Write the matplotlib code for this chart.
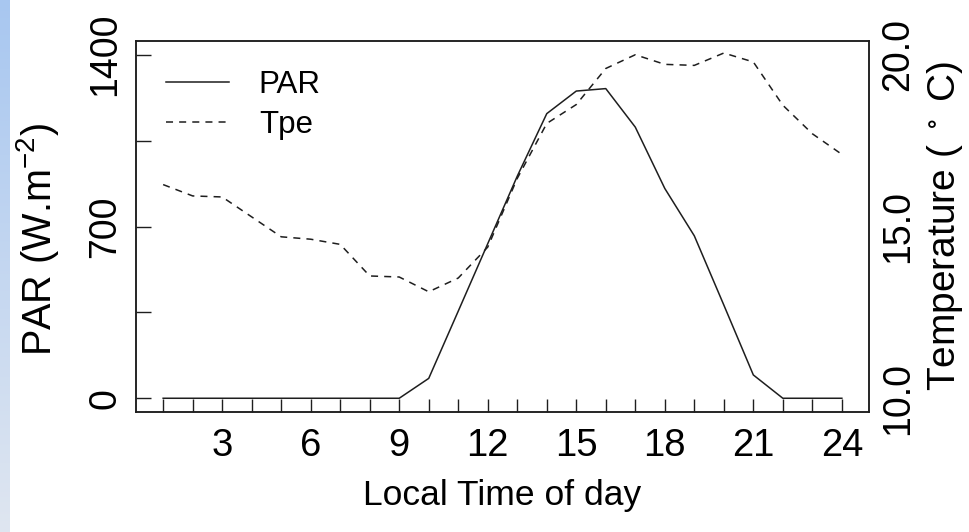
import numpy as np
import matplotlib
matplotlib.use("Agg")
import matplotlib.pyplot as plt

plt.rcParams['font.family'] = ['Liberation Sans', 'DejaVu Sans']
plt.rcParams['mathtext.fontset'] = 'custom'
plt.rcParams['mathtext.rm'] = 'Liberation Sans'
plt.rcParams['mathtext.default'] = 'regular'

# hourly values
hours = list(range(1, 25))
par = [0, 0, 0, 0, 0, 0, 0, 0, 0, 81, 355, 630, 905, 1160, 1252, 1262,
       1105, 855, 662, 380, 95, 0, 0, 0]
tpe = [16.22, 15.89, 15.86, 15.28, 14.70, 14.63, 14.48, 13.56, 13.53, 13.10,
       13.50, 14.40, 16.40, 18.00, 18.55, 19.60, 20.00, 19.72, 19.69, 20.05,
       19.79, 18.53, 17.70, 17.10]
x_labels = [str(h) if h % 3 == 0 else '' for h in hours]
par_ticks = [0, 350, 700, 1050, 1400]
par_labels = ['0', '', '700', '', '1400']
tpe_ticks = [10, 15, 20]
tpe_labels = ['10.0', '15.0', '20.0']

ink = '#1e1e1e'

fig = plt.figure(figsize=(9.69, 5.32), dpi=100)

# light blue strip on the left edge
strip = fig.add_axes([0, 0, 10 / 969, 1])
grad = np.linspace(0, 1, 256).reshape(-1, 1)
cmap = matplotlib.colors.LinearSegmentedColormap.from_list('s', ['#a8c7f0', '#dfe6f0'])
strip.imshow(grad, aspect='auto', cmap=cmap)
strip.axis('off')

ax = fig.add_axes([136 / 969, 120 / 532, 733 / 969, 371 / 532])
l1, = ax.plot(hours, par, color=ink, lw=1.1, label='PAR')
ax.set_xlim(0.08, 24.92)
ax.set_ylim(-56, 1456)
ax.set_xticks(hours, x_labels)
ax.set_yticks(par_ticks, par_labels)
ax.tick_params(axis='x', direction='in', length=9.5, width=1.0, color=ink,
               labelsize=27.5, pad=11.5, top=False)
ax.tick_params(axis='y', direction='in', length=11, width=1.0, color=ink,
               labelsize=27, pad=9, labelrotation=90, right=False)
for t in ax.get_yticklabels():
    t.set_va('center')
for s in ax.spines.values():
    s.set_color(ink)
    s.set_linewidth(1.1)

ax2 = ax.twinx()
l2, = ax2.plot(hours, tpe, color=ink, lw=1.1, dashes=(4.6, 4.0), label='Tpe')
ax2.set_ylim(9.6, 20.4)
ax2.set_yticks(tpe_ticks, tpe_labels)
ax2.tick_params(axis='y', length=0, labelsize=27, pad=8, labelrotation=90)
for t in ax2.get_yticklabels():
    t.set_va('center')
for s in ax2.spines.values():
    s.set_color(ink)
    s.set_linewidth(1.1)

ax2.legend(handles=[l1, l2], loc='upper left', bbox_to_anchor=(0.041, 0.922),
           frameon=False, fontsize=22.5, handlelength=2.0, handletextpad=0.97,
           labelspacing=0.32, borderpad=0, borderaxespad=0)

fig.text(502 / 969, 1 - 496 / 532, 'Local Time of day', ha='center', va='center',
         fontsize=25.5)
fig.text(38 / 969, 1 - 240 / 532, r'PAR (W.m$^{-2}$)', ha='center', va='center',
         rotation=90, fontsize=28.5)
fig.text(945 / 969, 1 - 226 / 532, r'Temperature ( $^\circ$ C)', ha='center',
         va='center', rotation=90, fontsize=28)

fig.savefig('out.png', dpi=100)
